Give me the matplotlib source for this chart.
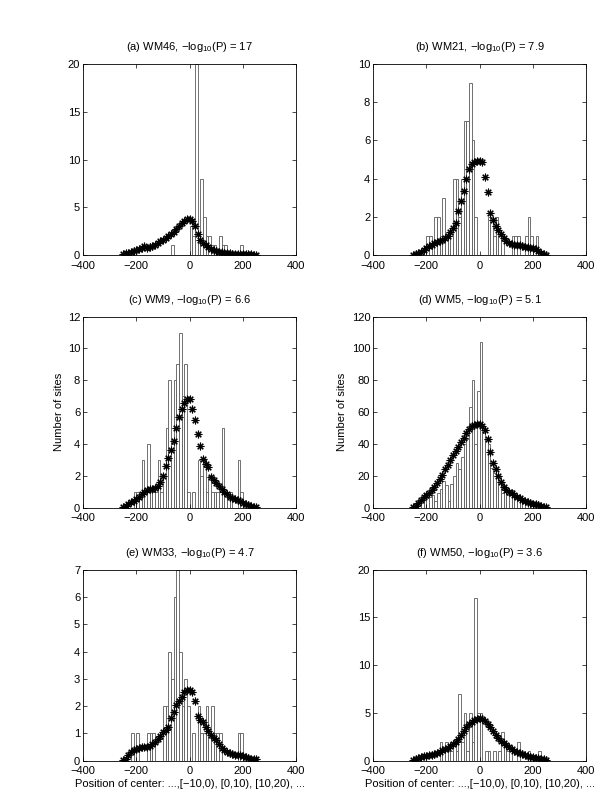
import numpy as np
import matplotlib
matplotlib.use("Agg")
import matplotlib.pyplot as plt

plt.rcParams['font.family'] = ['Liberation Sans', 'DejaVu Sans']
plt.rcParams['mathtext.fontset'] = 'custom'
plt.rcParams['mathtext.rm'] = 'Liberation Sans'
plt.rcParams['mathtext.it'] = 'Liberation Sans:italic'

# bin left edges -250 ... 240 (width 10), curve sampled at -250 ... 250
bins = np.arange(-250, 250, 10)
curve_x = np.arange(-250, 251, 10)

titles = ["(a) WM46, −log$_{10}$(P) = 17", "(b) WM21, −log$_{10}$(P) = 7.9",
          "(c) WM9, −log$_{10}$(P) = 6.6", "(d) WM5, −log$_{10}$(P) = 5.1",
          "(e) WM33, −log$_{10}$(P) = 4.7", "(f) WM50, −log$_{10}$(P) = 3.6"]

ylims = [20, 10, 12, 120, 7, 20]
ysteps = [5, 2, 2, 20, 1, 5]

counts_a = [0, 0, 0, 0, 0, 0, 0, 0, 0, 0, 0, 0, 0, 0, 0, 0, 0, 0, 1, 0,
            0, 0, 0, 0, 0, 3, 2, 20, 2, 8, 4, 2, 2, 1, 1, 0, 2, 1, 1, 0,
            0, 0, 0, 0, 1, 0, 0, 0, 0, 0]
counts_b = [0, 0, 0, 0, 0, 1, 1, 0, 2, 2, 1, 3, 1, 1, 1, 4, 4, 2, 4, 7,
            7, 9, 6, 2, 0, 0, 0, 0, 2, 2, 1, 2, 1, 1, 0, 0, 0, 1, 1, 1,
            0, 0, 1, 2, 1, 0, 1, 0, 0, 0]
counts_c = [0, 0, 0, 0, 1, 1, 1, 3, 1, 4, 1, 1, 1, 3, 1, 2, 5, 8, 4, 8,
            9, 11, 7, 9, 1, 0, 1, 0, 3, 2, 3, 1, 2, 1, 1, 1, 1, 5, 1, 1,
            1, 0, 0, 3, 1, 0, 0, 0, 0, 0]
counts_d = [1, 2, 3, 4, 5, 6, 7, 8, 4, 9, 12, 17, 14, 4, 15, 20, 28, 24, 32, 40,
            43, 63, 80, 40, 73, 104, 47, 43, 40, 25, 22, 20, 20, 9, 10, 8, 9, 11, 6, 6,
            5, 4, 3, 3, 2, 2, 2, 1, 1, 1]
counts_e = [0, 0, 0, 1, 0, 1, 0, 0, 0, 1, 1, 1, 0, 0, 0, 2, 2, 4, 3, 6,
            7, 4, 2, 3, 2, 0, 1, 0, 2, 1, 1, 2, 1, 2, 1, 1, 1, 0, 0, 0,
            0, 0, 0, 1, 1, 0, 0, 0, 0, 0]
counts_f = [0, 0, 0, 0, 0, 0, 0, 0, 0, 0, 2, 1, 2, 1, 1, 2, 1, 7, 2, 5,
            1, 5, 2, 17, 5, 5, 0, 1, 1, 0, 1, 0, 1, 3, 2, 1, 1, 0, 0, 2,
            0, 0, 0, 1, 0, 0, 0, 1, 0, 0]

smooth_a = [0.1, 0.2, 0.25, 0.35, 0.4, 0.5, 0.6, 0.75, 0.9, 0.75, 0.8, 0.95, 1.1,
            1.25, 1.45, 1.6, 1.8, 2.0, 2.2, 2.45, 2.7, 3.0, 3.3, 3.6, 3.8, 3.8,
            3.6, 3.0, 2.2, 1.6, 1.25, 1.0, 0.8, 0.65, 0.55, 0.45, 0.35, 0.3, 0.25,
            0.2, 0.18, 0.15, 0.13, 0.12, 0.1, 0.1, 0.08, 0.07, 0.06, 0.05, 0.04]
smooth_b = [0.02, 0.05, 0.1, 0.15, 0.25, 0.35, 0.45, 0.55, 0.65, 0.7, 0.75, 0.8, 0.9,
            1.0, 1.2, 1.4, 1.7, 2.3, 2.85, 3.35, 4.0, 4.5, 4.75, 4.85, 4.9, 4.9,
            4.85, 4.1, 3.3, 2.2, 1.85, 1.5, 1.3, 1.1, 0.9, 0.75, 0.65, 0.6, 0.55,
            0.5, 0.5, 0.45, 0.42, 0.4, 0.38, 0.35, 0.3, 0.2, 0.1, 0.05, 0.02]
smooth_c = [0.02, 0.1, 0.2, 0.35, 0.45, 0.55, 0.7, 0.85, 1.0, 1.1, 1.15, 1.2, 1.25,
            1.35, 1.6, 2.0, 2.6, 3.1, 3.6, 4.2, 5.0, 5.7, 6.2, 6.6, 6.8, 6.85,
            6.2, 5.5, 4.6, 3.9, 3.05, 2.75, 2.55, 1.9, 1.75, 1.55, 1.35, 1.2, 1.0,
            0.85, 0.7, 0.6, 0.55, 0.5, 0.4, 0.3, 0.25, 0.15, 0.1, 0.05, 0.02]
smooth_d = [0.3, 1, 3, 5, 6.5, 8, 9.5, 11, 13, 15.5, 18, 20.5, 24,
            27, 30, 33, 35.5, 38, 41, 44, 47, 49.5, 51, 52, 52.5, 52.5,
            51.5, 49, 43, 35, 28, 24, 20, 16, 13, 11, 10, 9, 8,
            7, 6, 5, 4.2, 3.5, 3, 2.5, 2, 1.5, 1, 0.6, 0.3]
smooth_e = [0.02, 0.08, 0.2, 0.33, 0.38, 0.43, 0.47, 0.5, 0.5, 0.5, 0.55, 0.62, 0.7,
            0.8, 0.9, 1.05, 1.12, 1.25, 1.55, 1.8, 2.05, 2.2, 2.35, 2.5, 2.58, 2.58,
            2.5, 2.2, 1.65, 1.5, 1.4, 1.25, 1.1, 0.95, 0.85, 0.75, 0.6, 0.45, 0.38,
            0.33, 0.27, 0.25, 0.22, 0.2, 0.2, 0.17, 0.14, 0.1, 0.08, 0.06, 0.05]
smooth_f = [0.05, 0.15, 0.3, 0.35, 0.45, 0.5, 0.55, 0.6, 0.7, 0.8, 0.95, 1.1, 1.2,
            1.35, 1.55, 1.75, 2.0, 2.3, 2.7, 3.1, 3.5, 3.85, 4.1, 4.3, 4.4, 4.45,
            4.4, 4.2, 3.85, 3.5, 3.1, 2.7, 2.4, 2.1, 1.85, 1.65, 1.45, 1.25, 1.05,
            0.9, 0.8, 0.7, 0.55, 0.45, 0.4, 0.35, 0.3, 0.25, 0.2, 0.15, 0.1]

counts = [counts_a, counts_b, counts_c, counts_d, counts_e, counts_f]
smooth = [smooth_a, smooth_b, smooth_c, smooth_d, smooth_e, smooth_f]

fig = plt.figure(figsize=(6.0, 7.91), dpi=100)

lefts = [0.1383, 0.6217]
bottoms = [0.6776, 0.3582, 0.0383]
w, h = 0.3555, 0.2415

for i in range(6):
    ax = fig.add_axes([lefts[i % 2], bottoms[i // 2], w, h])
    ax.bar(bins, counts[i], width=10, align='edge', color='white',
           edgecolor='0.35', linewidth=0.6)
    ax.plot(curve_x, smooth[i], linestyle='none', marker=(8, 2, 0),
            markersize=5.5, markeredgewidth=0.8, color='black')
    ax.set_xlim(-400, 400)
    ax.set_ylim(0, ylims[i])
    ax.set_xticks([-400, -200, 0, 200, 400])
    ax.set_yticks(np.arange(0, ylims[i] + 0.1, ysteps[i]))
    ax.tick_params(direction='in', top=True, right=True, labelsize=8,
                   length=3, width=0.5)
    ax.tick_params(axis='x', pad=4)
    ax.tick_params(axis='y', pad=2)
    for s in ax.spines.values():
        s.set_linewidth(0.6)
    ax.set_title(titles[i], fontsize=8, pad=10)
    if i in (2, 3):
        ax.set_ylabel("Number of sites", fontsize=8, labelpad=3)
    if i in (4, 5):
        ax.set_xlabel("Position of center: ...,[−10,0), [0,10), [10,20), ...",
                      fontsize=8, labelpad=2)

fig.savefig("out.png", dpi=100)
